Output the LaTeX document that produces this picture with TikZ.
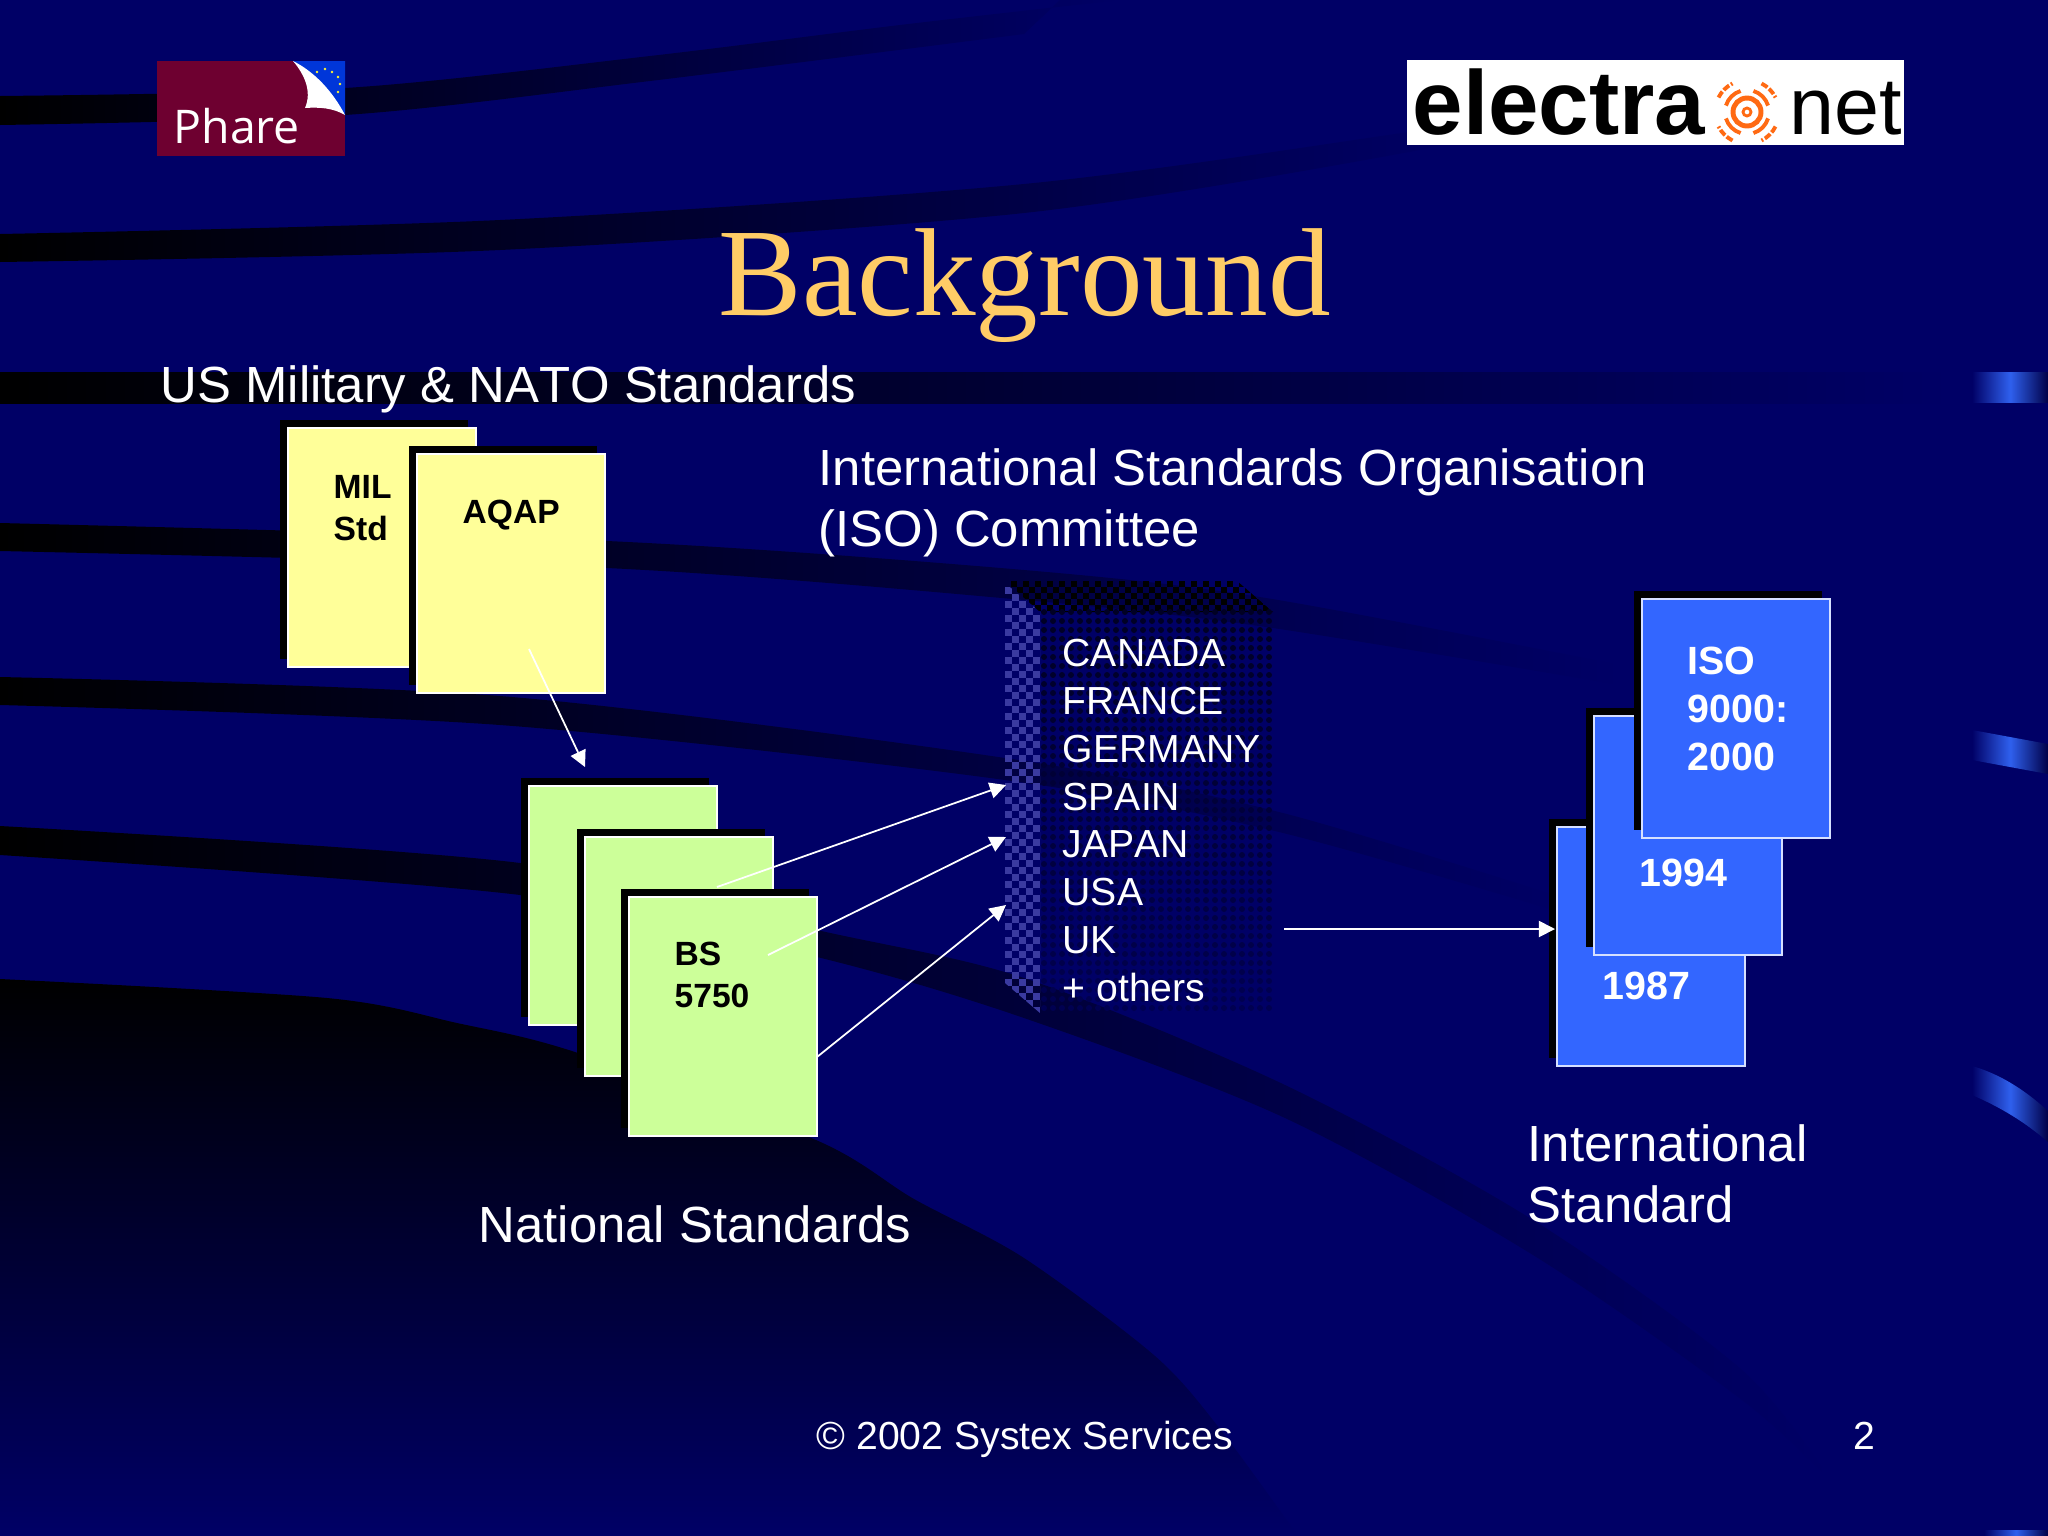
\documentclass[tikz,border=0pt]{standalone}
\usepackage{fontspec}
\setmainfont[Kerning=Off]{Liberation Sans}
\newfontfamily\titlefont{Liberation Serif}
\newfontfamily\logofont{Open Sans}
\usepackage{tikz}
\usetikzlibrary{arrows.meta, shadows, calc}
\definecolor{bgNavy}{HTML}{000066}
\definecolor{titleGold}{HTML}{FFCC66}
\definecolor{milYellow}{HTML}{FFFF99}
\definecolor{natGreen}{HTML}{CCFF99}
\definecolor{isoBlue}{HTML}{3366FF}
\definecolor{markBlue}{HTML}{2F60EE}
\definecolor{faceBlue}{HTML}{3A3AA0}
\definecolor{phareRed}{HTML}{6E0030}
\definecolor{elecOrange}{HTML}{FF6A13}
\tikzset{
    band/.style={left color=black, right color=bgNavy},
    sidemark/.style={left color=bgNavy, right color=bgNavy!70!black, middle color=markBlue},
    card/.style={rectangle, minimum width=1.875cm, minimum height=2.385cm, anchor=north west, inner sep=0pt, draw=white, line width=0.55pt,
        general shadow={shadow xshift=-0.08cm, shadow yshift=0.08cm, fill=black, draw=none}},
    milcard/.style={card, fill=milYellow},
    natcard/.style={card, fill=natGreen},
    isocard/.style={card, fill=isoBlue, draw=white!80!isoBlue},
    heading/.style={anchor=base west, inner sep=0pt, text=white, align=left, font=\fontsize{14.46}{17.27}\selectfont},
    smalltext/.style={anchor=base west, inner sep=0pt, text=white, align=left, font=\fontsize{11.13}{13.57}\selectfont},
    boxlabel/.style={anchor=base west, inner sep=0pt, align=left, font=\fontsize{9.55}{11.67}\selectfont\bfseries},
    isolabel/.style={anchor=base west, inner sep=0pt, text=white, align=left, font=\fontsize{11.2}{13.57}\selectfont\bfseries},
    arrow/.style={draw=white, line width=0.5pt, -{Triangle[length=4.6pt, width=4.6pt]}}
}
\begin{document}
\begin{tikzpicture}[x=0.01cm, y=-0.01cm]
    \useasboundingbox (0,0) rectangle (2048,1536);
    \fill[bgNavy] (0,0) rectangle (2048,1536);

    % Background swooshes
    \shade[top color=black, bottom color=bgNavy] plot[smooth] coordinates {(0,979) (327,998) (457,1023) (575,1052) (816,1140) (914,1199) (1024,1258) (1155,1356) (1220,1429) (1298,1536)} -- (0,1536) -- cycle;
    \shade[band] plot[smooth] coordinates {(0,96) (345,88) (650,56) (900,25) (1120,0)} -- (1060,0) -- plot[smooth] coordinates {(1024,34) (650,81) (345,115) (0,125)} -- cycle;
    \shade[band] plot[smooth] coordinates {(0,234) (500,220) (1024,184) (1409,132) (1480,120)} -- plot[smooth] coordinates {(1480,130) (1409,152) (1024,213) (500,250) (0,262)} -- cycle;
    \shade[band] (0,372) rectangle (1950,403);
    \shade[band] plot[smooth] coordinates {(0,523) (607,541) (1024,570) (1266,598) (1620,665)} -- plot[smooth] coordinates {(1620,685) (1266,627) (1024,600) (607,568) (0,551)} -- cycle;
    \shade[band] plot[smooth] coordinates {(0,677) (500,696) (1005,758) (1279,812) (1570,900)} -- plot[smooth] coordinates {(1570,915) (1279,832) (1005,780) (500,725) (0,705)} -- cycle;
    \shade[band] plot[smooth] coordinates {(0,826) (520,863) (817,930) (1024,978) (1285,1085) (1533,1220) (1742,1370) (1830,1480)} -- plot[smooth] coordinates {(1830,1480) (1742,1400) (1533,1255) (1285,1118) (1024,1018) (817,957) (520,895) (0,855)} -- cycle;

    % Side marks
    \shade[sidemark] (1972,372) rectangle (2048,402);
    \shade[sidemark] (1972,730) -- (2048,744) -- (2048,774) -- (1972,760) -- cycle;
    \shade[sidemark] (1972,1066) .. controls (2000,1074) and (2025,1090) .. (2048,1111) -- (2048,1142) .. controls (2025,1122) and (2000,1107) .. (1972,1095) -- cycle;
    \shade[sidemark] (1984,1530) rectangle (2048,1536);

    % Phare logo
    \fill[phareRed] (157,61) rectangle (345,156);
    \fill[blue!75!cyan!85!black] (293,61) -- (345,61) -- (345,115) -- cycle;
    \fill[white] (293,61) .. controls (315,72) and (333,92) .. (345,115) .. controls (333,108) and (320,107) .. (305,108) .. controls (312,92) and (305,75) .. (293,61) -- cycle;
    \foreach \sx/\sy in {317/72, 325/69, 332/72, 338/77, 340/84, 338/92} {
        \fill[yellow!80!white] (\sx,\sy) circle (1.4);
    }
    \node[anchor=base west, inner sep=0pt, text=white, font=\logofont\fontsize{13.2}{15}\selectfont] (phare) at (173,143) {Phare};

    % electra net logo
    \fill[white] (1407,60) rectangle (1904,145);
    \node[anchor=base west, inner sep=0pt, font=\fontsize{25.8}{30}\selectfont\bfseries] (electra) at (1412,134) {electra};
    \node[anchor=base west, inner sep=0pt, font=\fontsize{23}{28}\selectfont] (enet) at (1789,134) {net};
    \coordinate (spark) at (1747,112);
    \draw[elecOrange, line width=1.4pt] (spark) circle (14);
    \draw[elecOrange, line width=0.8pt] (spark) circle (4);
    \foreach \a in {45,135,225,315} {
        \draw[elecOrange, line width=1.1pt] ($(spark)+(\a-28:22)$) arc[start angle=\a-28, end angle=\a+28, radius=22];
        \draw[elecOrange, line width=1.1pt, dash pattern=on 2pt off 0.6pt] ($(spark)+(\a-18:32)$) arc[start angle=\a-18, end angle=\a+18, radius=32];
    }

    % Title and headings
    \node[anchor=base west, inner sep=0pt, text=titleGold, font=\titlefont\fontsize{35.6}{40}\selectfont] (title) at (718,315) {Background};
    \node[heading] (usmil) at (160,402) {US Military \& NATO Standards};
    \node[heading] (isohead) at (818,546) {International Standards Organisation\\(ISO) Committee};
    \node[heading] (natlabel) at (478,1242) {National Standards};
    \node[heading] (intlabel) at (1527,1222) {International\\Standard};
    \node[smalltext] (footer) at (816,1449) {© 2002 Systex Services};
    \node[smalltext] (pagenum) at (1853,1449) {2};

    % Committee block
    \begin{scope}
        \clip (1005,581) -- (1237,581) -- (1273,612) -- (1040,612) -- cycle;
        \foreach \py [count=\rw] in {581,587,...,612} {
            \pgfmathsetmacro{\ofs}{mod(\rw,2)*6}
            \foreach \px in {1005,1017,...,1273} {
                \fill[black] (\px+\ofs,\py) rectangle +(6,6);
            }
        }
    \end{scope}
    \foreach \py in {612,621,...,1010} {
        \pgfmathsetmacro{\dk}{int(65-0.11*(\py-612))}
        \foreach \px in {1044,1053,...,1270} {
            \fill[black!\dk!bgNavy] (\px,\py) circle (3);
        }
    }
    \begin{scope}
        \clip (1005,583) -- (1040,612) -- (1040,1013) -- (1005,983) -- cycle;
        \foreach \py [count=\rw] in {580,587,...,1015} {
            \pgfmathsetmacro{\ofs}{mod(\rw,2)*7}
            \foreach \px in {1005,1019,1033} {
                \fill[faceBlue] (\px+\ofs,\py) rectangle +(7,7);
            }
        }
    \end{scope}
    \node[smalltext] (countries) at (1062,1001) {CANADA\\FRANCE\\GERMANY\\SPAIN\\JAPAN\\USA\\UK\\+ others};

    % Free ends of the arrows
    \coordinate (aqapOut) at (529,649);
    \coordinate (natIn) at (585,767);
    \coordinate (midOut) at (717,887);
    \coordinate (spainIn) at (1006,785);
    \coordinate (frontOut) at (768,955);
    \coordinate (japanIn) at (1006,837);
    \coordinate (edgeOut) at (817,1057);
    \coordinate (usaIn) at (1006,905);
    \coordinate (ukOut) at (1284,929);
    \coordinate (isoIn) at (1555,929);

    % US military cards
    \node[milcard] (mil) at (287,427) {};
    \node[milcard] (aqap) at (416,453) {};
    \node[boxlabel] (millabel) at (333,540) {MIL\\Std};
    \node[boxlabel] (aqaplabel) at (462,523) {AQAP};
    \draw[arrow] (aqapOut) -- (natIn);

    % National cards
    \node[natcard] (natback) at (528,785) {};
    \node[natcard] (natmid) at (584,836) {};
    \draw[arrow] (midOut) -- (spainIn);
    \node[natcard] (natfront) at (628,896) {};
    \node[boxlabel] (bslabel) at (674,1007) {BS\\5750};
    \draw[arrow] (frontOut) -- (japanIn);
    \draw[arrow] (edgeOut) -- (usaIn);

    % ISO cards
    \node[isocard] (iso87) at (1556,826) {};
    \node[isolabel] (label87) at (1602,999) {1987};
    \node[isocard] (iso94) at (1593,715) {};
    \node[isolabel] (label94) at (1639,886) {1994};
    \node[isocard] (iso00) at (1641,598) {};
    \node[isolabel] (label00) at (1687,770) {ISO\\9000:\\2000};
    \draw[arrow] (ukOut) -- (isoIn);
\end{tikzpicture}
\end{document}
